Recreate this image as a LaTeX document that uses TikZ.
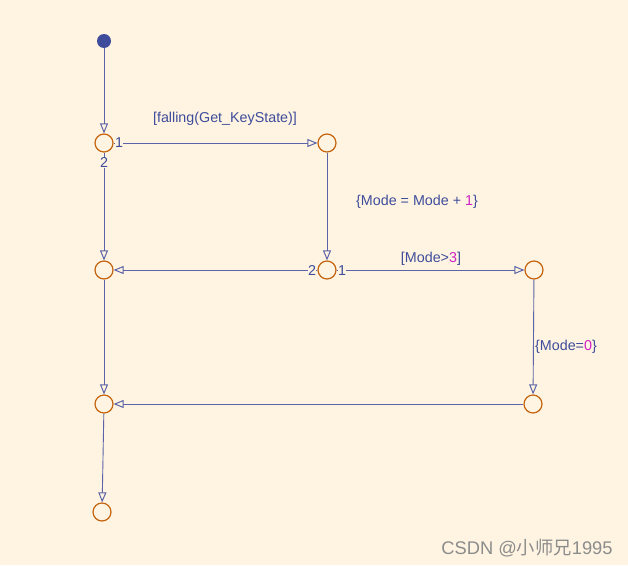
\documentclass[tikz,border=0pt]{standalone}
\usepackage{fontspec}
\setmainfont{Liberation Sans}
\newfontfamily\cjk{Noto Sans CJK SC}
\usetikzlibrary{arrows.meta}
\definecolor{bg}{HTML}{FEF4E1}
\definecolor{jcol}{HTML}{C4640F}
\definecolor{lcol}{HTML}{5C63A8}
\definecolor{tcol}{HTML}{3E4C9B}
\definecolor{mag}{HTML}{D022C4}
\definecolor{wm}{HTML}{8C8C8C}
\begin{document}
\begin{tikzpicture}[x=1pt,y=-1pt,
  font=\fontsize{14.3}{16}\selectfont,
  junc/.style={circle, draw=jcol, line width=1.2pt, minimum size=18pt, inner sep=0pt},
  trans/.style={draw=lcol, line width=0.9pt, -{Triangle[open,length=10pt,width=8pt,line width=1pt]}},
  lbl/.style={text=tcol, inner sep=1pt},
  num/.style={text=tcol, fill=bg, inner sep=0.5pt}]
\fill[bg] (0,0) rectangle (628,565);
\useasboundingbox (0,0) rectangle (628,565);
\node[circle, fill=tcol, minimum size=14pt, inner sep=0pt] (s) at (104,41) {};
\node[junc] (j1) at (104,143) {};
\node[junc] (j2) at (327,143) {};
\node[junc] (j3) at (104,270) {};
\node[junc] (j4) at (327,270) {};
\node[junc] (j5) at (534,270) {};
\node[junc] (j6) at (104,404) {};
\node[junc] (j7) at (533,404) {};
\node[junc] (j8) at (102,512) {};
\draw[trans] (s) -- (j1);
\draw[trans] (j1) -- (j2);
\draw[trans] (j1) -- (j3);
\draw[trans] (j2) -- (j4);
\draw[trans] (j4) -- (j3);
\draw[trans] (j4) -- (j5);
\draw[trans] (j3) -- (j6);
\draw[trans] (j5) -- (j7);
\draw[trans] (j7) -- (j6);
\draw[trans] (j6) -- (j8);
\node[num] (n11) at (119,143) {1};
\node[num] (n12) at (104,163) {2};
\node[num] (n42) at (312,271) {2};
\node[num] (n41) at (342,271) {1};
\node[lbl] (l1) at (225,119) {[falling(Get\_KeyState)]};
\node[lbl] (l2) at (417,202) {\{Mode = Mode + \textcolor{mag}{1}\}};
\node[lbl] (l3) at (431,259) {[Mode>\textcolor{mag}{3}]};
\node[lbl] (l4) at (566,347) {\{Mode=\textcolor{mag}{0}\}};
\node[text=wm, font=\fontsize{18.3}{20}\selectfont, inner sep=0pt] (w) at (527,548) {CSDN @{\cjk 小师兄}1995};
\end{tikzpicture}
\end{document}
